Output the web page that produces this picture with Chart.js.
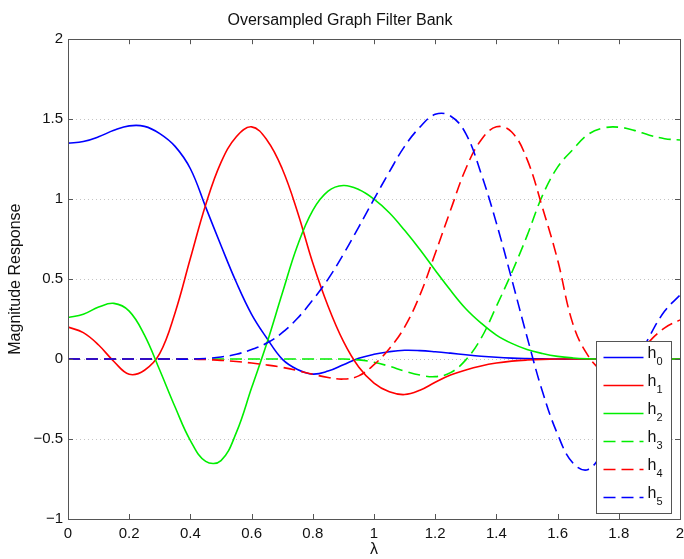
<!DOCTYPE html>
<html>
<head>
<meta charset="utf-8">
<script src="https://cdn.jsdelivr.net/npm/chart.js@4/dist/chart.umd.min.js"></script>
<style>
  body { margin: 0; background: #fff; }
  canvas { display: block; }
</style>
</head>
<body>
<canvas id="chart" width="684" height="559"></canvas>
<script>
const lambda = [0, 0.05, 0.1, 0.15, 0.2, 0.25, 0.3, 0.35, 0.4, 0.45, 0.5, 0.55, 0.6, 0.65, 0.7, 0.75, 0.8, 0.85, 0.9, 0.95,
    1, 1.05, 1.1, 1.15, 1.2, 1.25, 1.3, 1.35, 1.4, 1.45, 1.5, 1.55, 1.6, 1.65, 1.7, 1.75, 1.8, 1.85, 1.9, 1.95, 2];

const h0 = [1.35, 1.36, 1.39, 1.43, 1.458, 1.455, 1.41, 1.33, 1.19, 0.95, 0.71, 0.48, 0.28, 0.13, 0.0, -0.065, -0.094, -0.075, -0.035, 0.005,
    0.03, 0.046, 0.055, 0.053, 0.046, 0.037, 0.027, 0.018, 0.011, 0.006, 0.003, 0.001, 0, 0, 0, 0, 0, 0, 0, 0, 0];
const h1 = [0.2, 0.165, 0.088, -0.015, -0.095, -0.07, 0.035, 0.29, 0.63, 0.965, 1.23, 1.39, 1.452, 1.37, 1.19, 0.92, 0.6, 0.33, 0.11, -0.05,
    -0.15, -0.205, -0.222, -0.195, -0.145, -0.1, -0.068, -0.043, -0.025, -0.013, -0.006, -0.002, 0, 0, 0, 0, 0, 0, 0, 0, 0];
const h2 = [0.26, 0.28, 0.325, 0.348, 0.3, 0.15, -0.07, -0.3, -0.51, -0.64, -0.635, -0.46, -0.18, 0.1, 0.41, 0.71, 0.93, 1.05, 1.085, 1.06,
    1.0, 0.915, 0.805, 0.685, 0.555, 0.43, 0.315, 0.225, 0.15, 0.098, 0.06, 0.035, 0.017, 0.007, 0.002, 0, 0, 0, 0, 0, 0];
const h3 = [0, 0, 0, 0, 0, 0, 0, 0, 0, 0, 0, 0, 0, 0, 0, 0, 0, 0, 0, -0.005,
    -0.02, -0.045, -0.075, -0.1, -0.11, -0.085, -0.005, 0.13, 0.33, 0.54, 0.77, 1.02, 1.2, 1.31, 1.405, 1.445, 1.45, 1.43, 1.4, 1.378, 1.37];
const h4 = [0, 0, 0, 0, 0, 0, 0, 0, 0, -0.003, -0.008, -0.015, -0.025, -0.037, -0.052, -0.072, -0.095, -0.115, -0.125, -0.105,
    -0.035, 0.065, 0.2, 0.4, 0.66, 0.93, 1.19, 1.37, 1.452, 1.42, 1.25, 0.95, 0.62, 0.22, 0.02, -0.075, -0.07, 0.0, 0.11, 0.195, 0.245];
const h5 = [0, 0, 0, 0, 0, 0, 0, 0, 0, 0.004, 0.013, 0.03, 0.06, 0.1, 0.165, 0.255, 0.37, 0.5, 0.655, 0.825,
    1.0, 1.17, 1.33, 1.45, 1.53, 1.52, 1.41, 1.16, 0.85, 0.5, 0.14, -0.2, -0.47, -0.65, -0.69, -0.56, -0.31, -0.06, 0.14, 0.3, 0.4];

const series = [h0, h1, h2, h3, h4, h5];
const seriesLabels = ['0', '1', '2', '3', '4', '5'];
const seriesColors = ['#0000ff', '#ff0000', '#00ee00', '#00ee00', '#ff0000', '#0000ff'];
const seriesDashed = [false, false, false, true, true, true];

const FONT = '"Liberation Sans", Arial, Helvetica, sans-serif';
const AXIS_COLOR = '#555';
const DASH = [12, 6];

function fmtTick(v) {
    const r = Math.round(v * 10) / 10;
    return (r < 0 ? '\u2212' : '') + String(Math.abs(r));
}

// MATLAB style box with inward ticks
const axesBox = {
    id: 'axesBox',
    afterDatasetsDraw(chart) {
        const { ctx, chartArea: a, scales } = chart;
        const len = 5;
        ctx.save();
        ctx.strokeStyle = AXIS_COLOR;
        ctx.lineWidth = 1;
        ctx.beginPath();
        scales.x.ticks.forEach(t => {
            const px = Math.round(scales.x.getPixelForValue(t.value)) + 0.5;
            ctx.moveTo(px, a.bottom); ctx.lineTo(px, a.bottom - len);
            ctx.moveTo(px, a.top); ctx.lineTo(px, a.top + len);
        });
        scales.y.ticks.forEach(t => {
            const py = Math.round(scales.y.getPixelForValue(t.value)) + 0.5;
            ctx.moveTo(a.left, py); ctx.lineTo(a.left + len, py);
            ctx.moveTo(a.right, py); ctx.lineTo(a.right - len, py);
        });
        ctx.stroke();
        ctx.strokeRect(Math.round(a.left) + 0.5, Math.round(a.top) + 0.5,
            Math.round(a.right - a.left), Math.round(a.bottom - a.top));
        ctx.restore();
    }
};

// legend box in the lower right corner, h with subscript index
const subLegend = {
    id: 'subLegend',
    afterDraw(chart) {
        const { ctx, chartArea: a } = chart;
        const w = 75, h = 172;
        const x0 = Math.round(a.right - 9 - w) + 0.5;
        const y0 = Math.round(a.bottom - 6 - h) + 0.5;
        ctx.save();
        ctx.fillStyle = '#fff';
        ctx.fillRect(x0, y0, w, h);
        ctx.strokeStyle = AXIS_COLOR;
        ctx.lineWidth = 1;
        ctx.strokeRect(x0, y0, w, h);

        chart.data.datasets.forEach((ds, i) => {
            const y = y0 + 16 + i * 28;
            ctx.beginPath();
            ctx.strokeStyle = ds.borderColor;
            ctx.lineWidth = ds.borderWidth;
            ctx.setLineDash(ds.borderDash || []);
            ctx.moveTo(x0 + 7, y);
            ctx.lineTo(x0 + 47, y);
            ctx.stroke();
            ctx.setLineDash([]);

            ctx.fillStyle = '#111';
            ctx.textBaseline = 'alphabetic';
            ctx.font = '16px ' + FONT;
            ctx.fillText('h', x0 + 51, y);
            const hw = ctx.measureText('h').width;
            ctx.font = '11px ' + FONT;
            ctx.fillText(seriesLabels[i], x0 + 51 + hw, y + 7);
        });
        ctx.restore();
    }
};

const datasets = series.map((vals, i) => ({
    label: 'h' + seriesLabels[i],
    data: lambda.map((x, j) => ({ x: x, y: vals[j] })),
    borderColor: seriesColors[i],
    borderWidth: 1.6,
    borderDash: seriesDashed[i] ? DASH : [],
    pointRadius: 0,
    tension: 0.4,
    fill: false,
    order: series.length - i
}));

new Chart(document.getElementById('chart'), {
    type: 'line',
    data: { datasets },
    options: {
        responsive: false,
        animation: false,
        layout: { padding: { left: 0, right: 4, top: 0, bottom: 0 } },
        plugins: {
            legend: { display: false },
            tooltip: { enabled: false },
            title: {
                display: true,
                text: 'Oversampled Graph Filter Bank',
                color: '#111',
                font: { family: FONT, size: 16, weight: 'normal' },
                padding: { top: 11, bottom: 9 }
            }
        },
        scales: {
            x: {
                type: 'linear',
                min: 0,
                max: 2,
                ticks: {
                    stepSize: 0.2,
                    color: '#111',
                    padding: 6,
                    maxRotation: 0,
                    autoSkip: false,
                    font: { family: FONT, size: 15 },
                    callback: v => fmtTick(v)
                },
                grid: { display: false, drawTicks: false },
                border: { display: false },
                title: {
                    display: true,
                    text: 'λ',
                    color: '#111',
                    font: { family: FONT, size: 16 },
                    padding: { top: 0, bottom: 0 }
                },
                afterFit: s => {
                    s.height = 40;
                    s.paddingLeft = 0;
                    s.paddingRight = 0;
                }
            },
            y: {
                min: -1,
                max: 2,
                ticks: {
                    stepSize: 0.5,
                    color: '#111',
                    padding: 5,
                    font: { family: FONT, size: 15 },
                    callback: v => fmtTick(v)
                },
                grid: {
                    color: v => (v.tick.value > -1 && v.tick.value < 2) ? '#c4c4c4' : 'rgba(0,0,0,0)',
                    drawTicks: false,
                    lineWidth: 1
                },
                border: { display: false, dash: [1, 3] },
                title: {
                    display: true,
                    text: 'Magnitude Response',
                    color: '#111',
                    font: { family: FONT, size: 16 },
                    padding: { top: 6, bottom: 0 }
                },
                afterFit: s => {
                    s.width = 68;
                    s.paddingTop = 0;
                    s.paddingBottom = 0;
                }
            }
        }
    },
    plugins: [axesBox, subLegend]
});
</script>
</body>
</html>
